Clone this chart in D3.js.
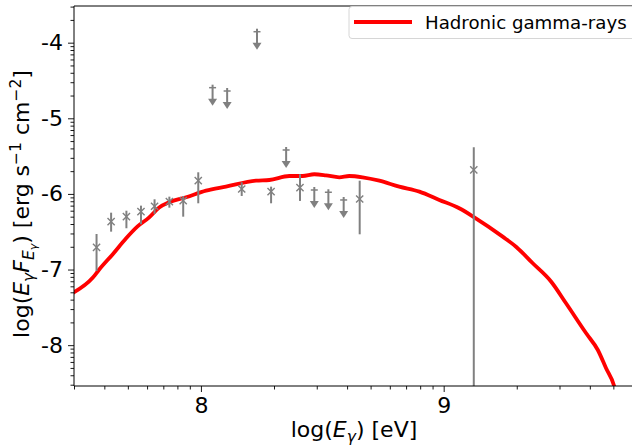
<!DOCTYPE html>
<html>
<head>
<meta charset="utf-8">
<script src="https://cdn.jsdelivr.net/npm/d3@7"></script>
<style>
  body { margin: 0; background: #fff; }
  svg { display: block; font-family: "DejaVu Sans", sans-serif; }
</style>
</head>
<body>
<div id="chart"></div>
<script>
// data, all in log10 units
const modelX = [7.47, 7.554, 7.581, 7.636, 7.691, 7.739, 7.787, 7.828, 7.869, 7.939, 8.021, 8.103,
  8.227, 8.282, 8.364, 8.419, 8.467, 8.515, 8.570, 8.611, 8.666, 8.735, 8.817, 8.900, 8.982,
  9.064, 9.126, 9.243, 9.298, 9.367, 9.443, 9.504, 9.587, 9.635, 9.669, 9.703, 9.72];
const modelY = [-7.314, -7.11, -7.00, -6.80, -6.59, -6.43, -6.31, -6.18, -6.11, -6.044, -5.957, -5.904,
  -5.825, -5.816, -5.763, -5.763, -5.740, -5.754, -5.780, -5.763, -5.780, -5.825, -5.904, -5.970, -6.080,
  -6.190, -6.309, -6.565, -6.698, -6.917, -7.161, -7.446, -7.843, -8.064, -8.306, -8.549, -8.80];

// detected flux points with error bars
const ptX  = [7.570, 7.630, 7.693, 7.753, 7.809, 7.870, 7.927, 7.989, 8.168, 8.289, 8.408, 8.654, 9.124];
const ptY  = [-6.706, -6.367, -6.301, -6.235, -6.163, -6.103, -6.089, -5.825, -5.935, -5.970, -5.917, -6.067, -5.683];
const ptHi = [-6.530, -6.248, -6.222, -6.155, -6.071, -6.036, -6.027, -5.714, -5.846, -5.904, -5.740, -5.825, -5.383];
const ptLo = [-7.019, -6.499, -6.454, -6.401, -6.265, -6.182, -6.301, -6.124, -6.027, -6.124, -6.093, -6.534, -9.0];

// upper limits
const ulX = [8.048, 8.108, 8.231, 8.351, 8.467, 8.525, 8.588];
const ulY = [-4.595, -4.639, -3.855, -5.419, -5.948, -5.978, -6.080];

const xTicks = [8, 9];
const yTicks = [-8, -7, -6, -5, -4];

// layout
const W = 632, H = 445;
const plot = {left: 74, top: 6, right: 634, bottom: 386};
const GRAY = '#808080';
const FS = 22;

const x = d3.scaleLinear().domain([Math.log10(3e7), 9.784]).range([plot.left, plot.right]);
const y = d3.scaleLinear().domain([-8.54, -3.515]).range([plot.bottom, plot.top]);

// minor ticks like a matplotlib log axis: log10(k * 10^n)
function minorTicks(domain) {
  const out = [];
  for (let n = Math.floor(domain[0]) - 1; n <= Math.ceil(domain[1]); n++) {
    for (let k = 2; k <= 9; k++) {
      const v = n + Math.log10(k);
      if (v >= domain[0] - 1e-9 && v <= domain[1] + 1e-9) out.push(v);
    }
  }
  return out;
}

const svg = d3.select('#chart').append('svg').attr('width', W).attr('height', H);

svg.append('defs').append('clipPath').attr('id', 'clip')
  .append('rect')
  .attr('x', plot.left).attr('y', plot.top)
  .attr('width', plot.right - plot.left).attr('height', plot.bottom - plot.top);

const area = svg.append('g').attr('clip-path', 'url(#clip)');

// model curve
area.append('path')
  .datum(modelX.map((v, i) => [v, modelY[i]]))
  .attr('d', d3.line().curve(d3.curveMonotoneX).x(d => x(d[0])).y(d => y(d[1])))
  .attr('fill', 'none')
  .attr('stroke', '#ff0000')
  .attr('stroke-width', 3.8)
  .attr('stroke-linejoin', 'round');

// error bars + x markers
const pts = area.append('g').attr('stroke', GRAY).attr('fill', 'none');
ptX.forEach((v, i) => {
  const cx = x(v), cy = y(ptY[i]);
  pts.append('line')
    .attr('x1', cx).attr('x2', cx)
    .attr('y1', y(ptHi[i])).attr('y2', y(ptLo[i]))
    .attr('stroke-width', 2);
  const s = 3.6;
  pts.append('path')
    .attr('d', `M${cx - s},${cy - s}L${cx + s},${cy + s}M${cx - s},${cy + s}L${cx + s},${cy - s}`)
    .attr('stroke-width', 1.4);
});

// upper limits: cap, stem, arrowhead
const ARROW = 18;
const uls = area.append('g');
ulX.forEach((v, i) => {
  const cx = x(v), cy = y(ulY[i]);
  uls.append('line')
    .attr('x1', cx - 3.5).attr('x2', cx + 3.5)
    .attr('y1', cy).attr('y2', cy)
    .attr('stroke', GRAY).attr('stroke-width', 1.5);
  uls.append('line')
    .attr('x1', cx).attr('x2', cx)
    .attr('y1', cy - 3).attr('y2', cy + ARROW - 5)
    .attr('stroke', GRAY).attr('stroke-width', 2);
  uls.append('path')
    .attr('d', `M${cx - 4.5},${cy + ARROW - 7}L${cx + 4.5},${cy + ARROW - 7}L${cx},${cy + ARROW}Z`)
    .attr('fill', GRAY);
});

// axes
const xAxis = svg.append('g').attr('transform', `translate(0,${plot.bottom})`);
xAxis.call(d3.axisBottom(x).tickValues(minorTicks(x.domain())).tickSize(3.5).tickFormat(''));
xAxis.append('g').call(d3.axisBottom(x).tickValues(xTicks).tickSize(6).tickPadding(5).tickFormat(d3.format('d')));
xAxis.selectAll('.domain').remove();

const yAxis = svg.append('g').attr('transform', `translate(${plot.left},0)`);
yAxis.call(d3.axisLeft(y).tickValues(minorTicks(y.domain())).tickSize(3.5).tickFormat(''));
yAxis.append('g').call(d3.axisLeft(y).tickValues(yTicks).tickSize(6).tickPadding(5).tickFormat(d => String(d)));
yAxis.selectAll('.domain').remove();

svg.selectAll('.tick line').attr('stroke', '#000').attr('stroke-width', 0.9);
svg.selectAll('.tick text').attr('font-size', FS).attr('font-family', '"DejaVu Sans", sans-serif').attr('fill', '#000');
xAxis.selectAll('.tick text').attr('dy', '0.72em');

// spines (right one falls outside the window)
svg.append('path')
  .attr('d', `M${plot.left},${plot.bottom}V${plot.top}H${plot.right}M${plot.left},${plot.bottom}H${plot.right}`)
  .attr('fill', 'none').attr('stroke', '#000').attr('stroke-width', 1);

// axis labels
const SUB = 15.5, SUB2 = 11;
const xl = svg.append('text')
  .attr('x', (plot.left + plot.right) / 2).attr('y', 437)
  .attr('text-anchor', 'middle').attr('font-size', FS);
xl.append('tspan').text('log(');
xl.append('tspan').attr('font-style', 'italic').text('E');
xl.append('tspan').attr('font-style', 'italic').attr('font-size', SUB).attr('dy', 4.5).text('γ');
xl.append('tspan').attr('dy', -4.5).text(') [eV]');

const yl = svg.append('text')
  .attr('transform', `translate(29,204) rotate(-90)`)
  .attr('text-anchor', 'middle').attr('font-size', FS);
yl.append('tspan').text('log(');
yl.append('tspan').attr('font-style', 'italic').text('E');
yl.append('tspan').attr('font-style', 'italic').attr('font-size', SUB).attr('dy', 4.5).text('γ');
yl.append('tspan').attr('font-style', 'italic').attr('dy', -4.5).text('F');
yl.append('tspan').attr('font-style', 'italic').attr('font-size', SUB).attr('dy', 4.5).text('E');
yl.append('tspan').attr('font-style', 'italic').attr('font-size', SUB2).attr('dy', 3).text('γ');
yl.append('tspan').attr('dy', -7.5).text(') [erg s');
yl.append('tspan').attr('font-size', SUB).attr('dy', -8).text('−1');
yl.append('tspan').attr('dy', 8).text(' cm');
yl.append('tspan').attr('font-size', SUB).attr('dy', -8).text('−2');
yl.append('tspan').attr('dy', 8).text(']');

// legend
const lg = svg.append('g');
lg.append('rect')
  .attr('x', 349).attr('y', 6.5).attr('width', 300).attr('height', 32).attr('rx', 3)
  .attr('fill', '#fff').attr('fill-opacity', 0.8)
  .attr('stroke', '#d6d6d6').attr('stroke-width', 1);
lg.append('line')
  .attr('x1', 354).attr('x2', 412).attr('y1', 22).attr('y2', 22)
  .attr('stroke', '#ff0000').attr('stroke-width', 3.8);
lg.append('text')
  .attr('x', 425).attr('y', 28.5)
  .attr('font-size', 18.2).attr('fill', '#000')
  .text('Hadronic gamma-rays');
</script>
</body>
</html>
